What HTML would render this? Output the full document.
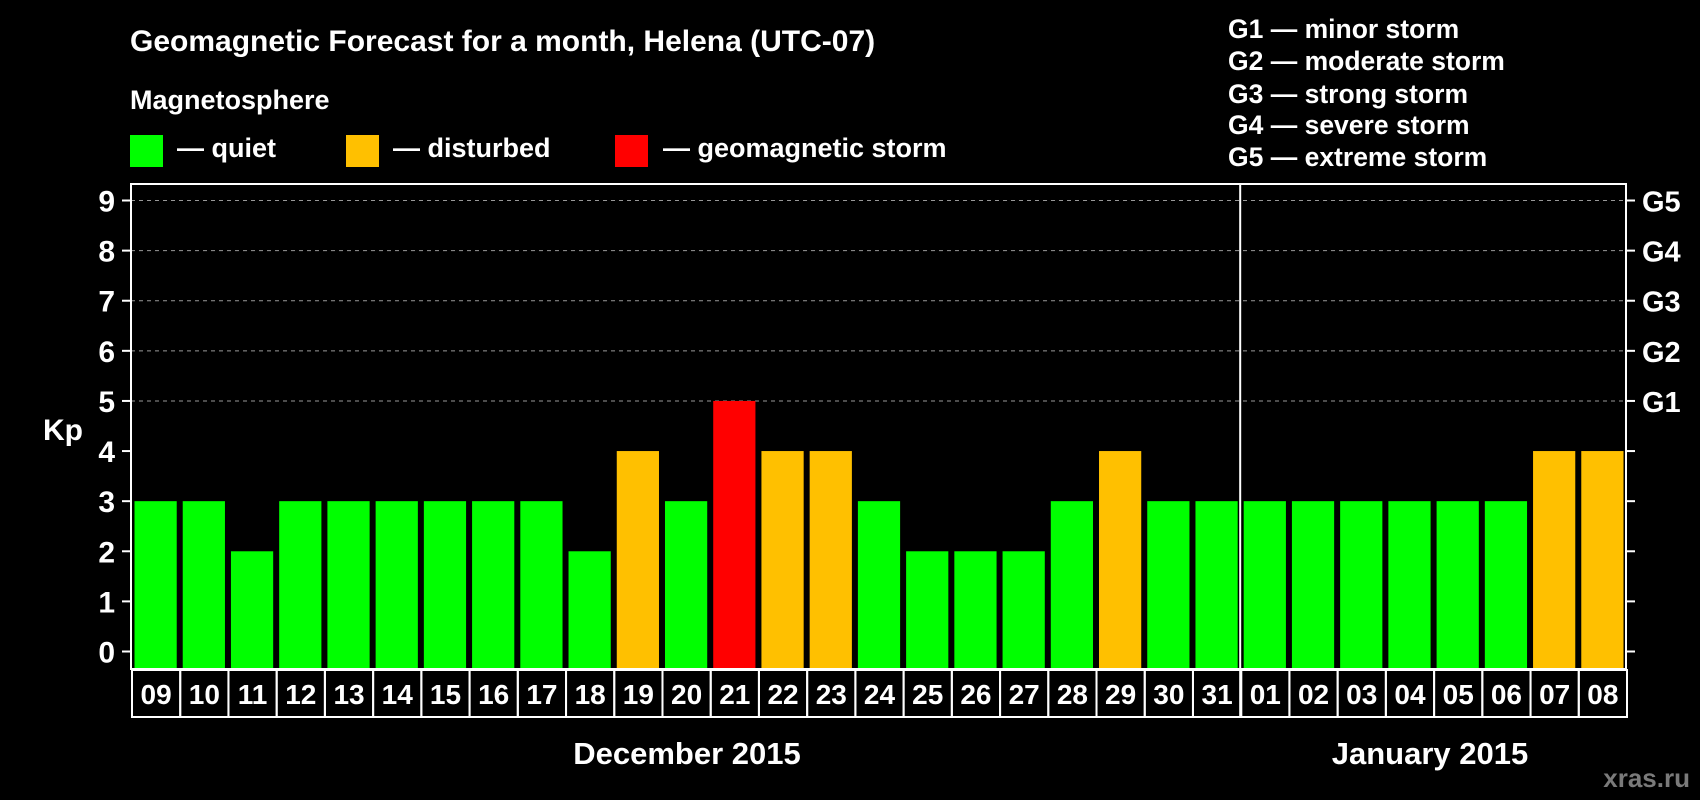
<!DOCTYPE html>
<html><head><meta charset="utf-8"><style>
html,body{margin:0;padding:0;background:#000;width:1700px;height:800px;overflow:hidden}
svg text{font-family:"Liberation Sans",Arial,sans-serif;font-weight:bold;fill:#fff}
</style></head><body>
<svg id="c" width="1700" height="800" xmlns="http://www.w3.org/2000/svg">
<text x="130" y="51" font-size="30">Geomagnetic Forecast for a month, Helena (UTC-07)</text>
<text x="130" y="109" font-size="27">Magnetosphere</text>
<rect x="130" y="135" width="33" height="32" fill="#00ff00"/>
<text x="177" y="157" font-size="27">— quiet</text>
<rect x="346" y="135" width="33" height="32" fill="#ffc000"/>
<text x="393" y="157" font-size="27">— disturbed</text>
<rect x="615" y="135" width="33" height="32" fill="#ff0000"/>
<text x="663" y="157" font-size="27">— geomagnetic storm</text>
<g font-size="26.5">
<text x="1228" y="38">G1 — minor storm</text>
<text x="1228" y="70">G2 — moderate storm</text>
<text x="1228" y="103">G3 — strong storm</text>
<text x="1228" y="134">G4 — severe storm</text>
<text x="1228" y="166">G5 — extreme storm</text>
</g>
<text x="43" y="440" font-size="30">Kp</text>
<text x="687" y="764" font-size="31" text-anchor="middle">December 2015</text>
<text x="1430" y="764" font-size="31" text-anchor="middle">January 2015</text>
<text x="1690" y="787" font-size="26" text-anchor="end" style="fill:#7a7a7a">xras.ru</text>
<g id="plot"></g>
</svg>
<script>
const days=["09","10","11","12","13","14","15","16","17","18","19","20","21","22","23","24","25","26","27","28","29","30","31","01","02","03","04","05","06","07","08"];
const kp=[3,3,2,3,3,3,3,3,3,2,4,3,5,4,4,3,2,2,2,3,4,3,3,3,3,3,3,3,3,4,4];
const yTicks=[0,1,2,3,4,5,6,7,8,9];
const gLabels=["G1","G2","G3","G4","G5"];
const gValues=[5,6,7,8,9];
const monthBreak=23;

const NS="http://www.w3.org/2000/svg";
const g=document.getElementById('plot');
const L=131,R=1626,T=184,B=669;
const slot=(R-L)/days.length;
const y=v=>651.5-v*(651.5-200.5)/9;
const x=i=>L+i*slot;
function mk(t,a){const e=document.createElementNS(NS,t);for(const k in a)e.setAttribute(k,a[k]);g.appendChild(e);return e;}
function col(v){return v>=5?"#ff0000":v>=4?"#ffc000":"#00ff00";}

yTicks.forEach(v=>{
  if(v>=5){const l=mk('line',{x1:L,x2:R,y1:y(v),y2:y(v),stroke:'#999','stroke-dasharray':'4,4','stroke-width':1});
  
  }
  const t1=mk('line',{x1:L-9,x2:L,y1:y(v),y2:y(v),stroke:'#fff','stroke-width':2});
  
  
  const t2=mk('line',{x1:R,x2:R+9,y1:y(v),y2:y(v),stroke:'#fff','stroke-width':2});
  
  
  const tx=mk('text',{x:115,y:y(v)+11,'font-size':30,'text-anchor':'end'});
  tx.textContent=v;
  
  
});
gLabels.forEach((s,i)=>{
  const t=mk('text',{x:1642,y:y(gValues[i])+11,'font-size':29});
  t.textContent=s;
  
  
});
kp.forEach((v,i)=>{
  const r=mk('rect',{x:x(i)+3.5,y:y(v),width:slot-6,height:B-y(v),fill:col(v)});
  
  
  const c=mk('rect',{x:x(i)+1,y:B+1,width:slot,height:47,fill:'none',stroke:'#fff','stroke-width':2});
  
  
  const t=mk('text',{x:x(i)+slot/2+1,y:B+35,'font-size':28,'text-anchor':'middle'});
  t.textContent=days[i];
  
  
});
const fr=mk('rect',{x:L,y:T,width:R-L,height:B-T,fill:'none',stroke:'#fff','stroke-width':2});


const d=mk('line',{x1:x(monthBreak),x2:x(monthBreak),y1:T,y2:B+48,stroke:'#fff','stroke-width':2});


</script>
</body></html>
